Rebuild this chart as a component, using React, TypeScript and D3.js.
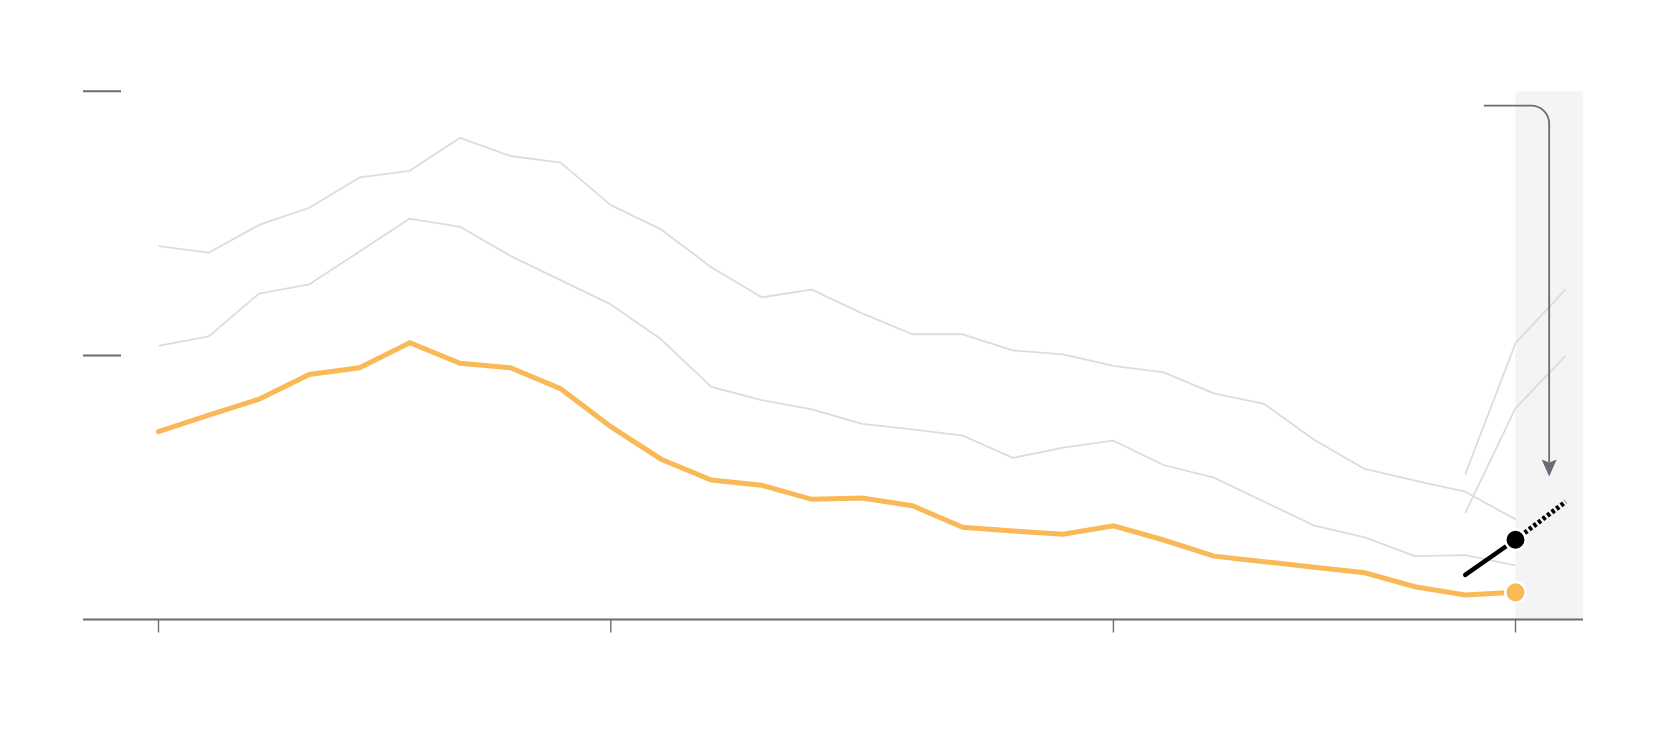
import React from 'react';
import * as d3 from 'd3';

// ---- data ----
const years = [1991, 1992, 1993, 1994, 1995, 1996, 1997, 1998, 1999, 2000, 2001, 2002, 2003, 2004,
  2005, 2006, 2007, 2008, 2009, 2010, 2011, 2012, 2013, 2014, 2015, 2016, 2017, 2018];
const upperSeries = [14.14, 13.89, 14.94, 15.59, 16.74, 16.99, 18.24, 17.55, 17.30, 15.69, 14.77, 13.34,
  12.20, 12.49, 11.59, 10.80, 10.80, 10.19, 10.04, 9.60, 9.36, 8.56, 8.16, 6.80, 5.70, 5.26, 4.84, 3.79];
const middleSeries = [10.36, 10.72, 12.34, 12.69, 13.93, 15.18, 14.87, 13.77, 12.85, 11.93, 10.61, 8.81,
  8.31, 7.96, 7.41, 7.20, 6.96, 6.12, 6.51, 6.77, 5.85, 5.37, 4.46, 3.55, 3.11, 2.40, 2.44, 2.05];
const mainSeries = [7.11, 7.74, 8.34, 9.28, 9.53, 10.48, 9.70, 9.53, 8.74, 7.30, 6.07, 5.28, 5.08, 4.55,
  4.60, 4.31, 3.49, 3.35, 3.23, 3.55, 3.01, 2.40, 2.19, 1.98, 1.77, 1.24, 0.93, 1.03];
const projYears = [2017, 2018, 2019];
const projUpper = [5.50, 10.46, 12.51];
const projLower = [4.04, 8.00, 9.99];
const newYears = [2017, 2018];
const newValues = [1.69, 3.02];
const newProjYears = [2018, 2019];
const newProjValues = [3.02, 4.46];
const xTicks = [1991, 2000, 2010, 2018];
const yTicks = [10, 20];
const highlightStart = 2018;
// annotation (data coordinates)
const annStart = { year: 2017.37, value: 19.46 };
const annCornerYear = 2018.67;
const annTipValue = 5.41;

// ---- layout ----
const W = 1666;
const H = 750;
const chartLeft = 83;
const chartRight = 1583;

const x = d3.scaleLinear().domain([1991, 2018]).range([158.5, 1515.5]);
const y = d3.scaleLinear().domain([0, 20]).range([619.5, 91.3]);

const AXIS = '#676c75';
const GRAY = '#dcdcdc';
const ORANGE = '#f9b957';

type P = [number, number];
const line = d3.line<P>().x(d => x(d[0])).y(d => y(d[1]));
const zip = (xs: number[], vs: number[]): P[] => xs.map((v, i) => [v, vs[i]]);

export default function App() {
  const upperPath = line(zip(years, upperSeries)) || '';
  const middlePath = line(zip(years, middleSeries)) || '';
  const mainPath = line(zip(years, mainSeries)) || '';
  const pUpper = line(zip(projYears, projUpper)) || '';
  const pLower = line(zip(projYears, projLower)) || '';
  const newPath = line(zip(newYears, newValues)) || '';
  const newProjPath = line(zip(newProjYears, newProjValues)) || '';

  const lastYear = years[years.length - 1];
  const lastMain = mainSeries[mainSeries.length - 1];
  const lastNew = newValues[newValues.length - 1];
  const lastNewYear = newYears[newYears.length - 1];

  // annotation arrow
  const sx = x(annStart.year);
  const sy = y(annStart.value);
  const cx = x(annCornerYear);
  const r = 18;
  const tipY = y(annTipValue);
  const headH = 17;
  const headW = 7.5;
  const annPath = `M${sx},${sy} H${cx - r} A${r},${r} 0 0 1 ${cx},${sy + r} V${tipY - headH + 3}`;
  const headPath = `M${cx},${tipY} L${cx - headW},${tipY - headH} L${cx},${tipY - headH + 3} L${cx + headW},${tipY - headH} Z`;

  return (
    <svg width={W} height={H} style={{ position: 'absolute', left: 0, top: 0, background: '#fff' }}
      fontFamily="Roboto, sans-serif">
      {/* highlight band */}
      <rect x={x(highlightStart)} y={y(20)} width={chartRight - x(highlightStart)} height={y(0) - y(20)} fill="#f4f4f4" />

      {/* y tick stubs */}
      {yTicks.map(t => (
        <line key={t} x1={chartLeft} x2={chartLeft + 38} y1={y(t)} y2={y(t)} stroke={AXIS} strokeWidth={2} />
      ))}

      {/* context lines */}
      <path d={upperPath} fill="none" stroke={GRAY} strokeWidth={1.8} strokeLinejoin="round" />
      <path d={middlePath} fill="none" stroke={GRAY} strokeWidth={1.8} strokeLinejoin="round" />
      <path d={pUpper} fill="none" stroke={GRAY} strokeWidth={1.8} />
      <path d={pLower} fill="none" stroke={GRAY} strokeWidth={1.8} />

      {/* main series */}
      <path d={mainPath} fill="none" stroke={ORANGE} strokeWidth={5} strokeLinecap="round" strokeLinejoin="miter" />
      <circle cx={x(lastYear)} cy={y(lastMain)} r={10.25} fill={ORANGE} stroke="#fff" strokeWidth={2.5} />

      {/* new series */}
      <path d={newProjPath} fill="none" stroke="#000" strokeWidth={4.8} strokeDasharray="3.3,2.4" />
      <path d={newPath} fill="none" stroke="#000" strokeWidth={4.5} strokeLinecap="round" />
      <circle cx={x(lastNewYear)} cy={y(lastNew)} r={10.25} fill="#000" stroke="#fff" strokeWidth={2.5} />

      {/* annotation arrow */}
      <path d={annPath} fill="none" stroke={AXIS} strokeWidth={1.8} />
      <path d={headPath} fill={AXIS} />

      {/* x axis */}
      <line x1={chartLeft} x2={chartRight} y1={y(0)} y2={y(0)} stroke={AXIS} strokeWidth={2} />
      {xTicks.map(t => (
        <line key={t} x1={x(t)} x2={x(t)} y1={y(0)} y2={y(0) + 13} stroke={AXIS} strokeWidth={1.4} />
      ))}
    </svg>
  );
}
